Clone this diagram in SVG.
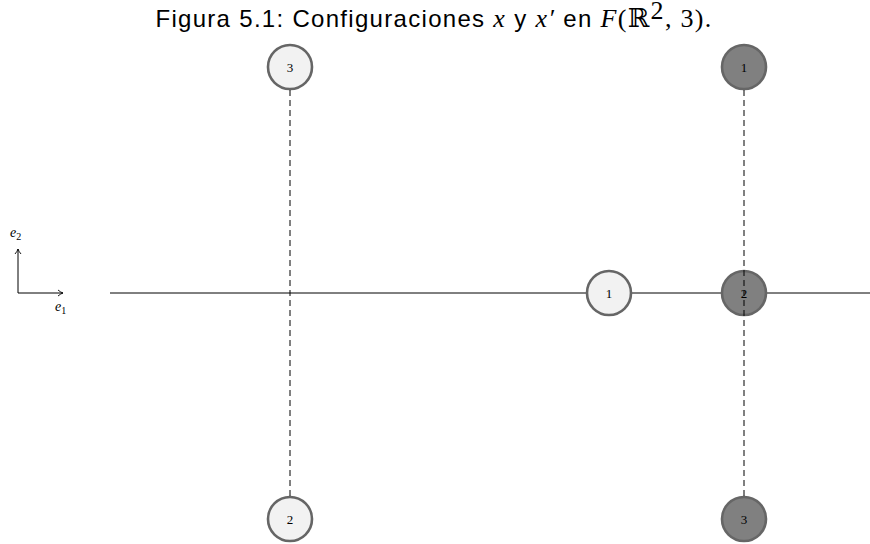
<svg xmlns="http://www.w3.org/2000/svg" width="870" height="544" viewBox="0 0 870 544">
<style>
.title{font-family:"Liberation Sans","DejaVu Sans",sans-serif;font-size:24px;fill:#000;letter-spacing:1.3px}
.m{font-family:"Liberation Serif","DejaVu Serif",serif;font-style:italic;font-size:26px}
.r{font-family:"Liberation Serif","DejaVu Serif",serif;font-size:26px}
.light{fill:#f2f2f2;stroke:#666;stroke-width:2.6}
.dark{fill:#808080;stroke:#666;stroke-width:2.6}
.lbl{font-family:"Liberation Serif","DejaVu Serif",serif;font-size:13px;text-anchor:middle;fill:#000}
.dash{stroke:#000;stroke-width:1;stroke-dasharray:6 4;fill:none}
.ax{stroke:#000;stroke-width:1;fill:none}
.e{font-family:"Liberation Serif","DejaVu Serif",serif;font-style:italic;font-size:14px}
</style>
<defs>
<marker id="arr" markerWidth="8" markerHeight="8" refX="6" refY="4" orient="auto" markerUnits="userSpaceOnUse">
<path d="M1,1 Q4,3.5 6,4 Q4,4.5 1,7" fill="none" stroke="#000" stroke-width="0.9"/>
</marker>
</defs>
<text class="title" x="434" y="27" text-anchor="middle">Figura 5.1: Configuraciones <tspan class="m">x</tspan> y <tspan class="m">x′</tspan> en <tspan class="m">F</tspan><tspan class="r">(ℝ</tspan><tspan class="r" font-size="14" dy="-8">2</tspan><tspan class="r" dy="8">, 3).</tspan></text>
<g id="axes">
<line class="ax" x1="18" y1="293" x2="18" y2="249" marker-end="url(#arr)"/>
<line class="ax" x1="18" y1="293" x2="63" y2="293" marker-end="url(#arr)"/>
<text class="e" x="10" y="237">e<tspan font-size="10" font-style="normal" dy="3">2</tspan></text>
<text class="e" x="55" y="311">e<tspan font-size="10" font-style="normal" dy="3">1</tspan></text>
</g>
<g id="baseline">
<line class="ax" x1="110" y1="293" x2="870" y2="293"/>
</g>
<g id="x3"><circle class="light" cx="290" cy="67" r="22"/><text class="lbl" x="290" y="72">3</text></g>
<g id="x2"><circle class="light" cx="290" cy="519" r="22"/><text class="lbl" x="290" y="524">2</text></g>
<g id="x1"><circle class="light" cx="609" cy="293" r="22"/><text class="lbl" x="609" y="298">1</text></g>
<g id="xp1"><circle class="dark" cx="744" cy="67" r="22"/><text class="lbl" x="744" y="72">1</text></g>
<g id="xp2"><circle class="dark" cx="744" cy="293" r="22"/><text class="lbl" x="744" y="298">2</text></g>
<g id="xp3"><circle class="dark" cx="744" cy="519" r="22"/><text class="lbl" x="744" y="524">3</text></g>
<g id="connectors">
<line class="dash" x1="290" y1="90" x2="290" y2="496"/>
<line class="dash" x1="744" y1="90" x2="744" y2="496"/>
</g>
</svg>
